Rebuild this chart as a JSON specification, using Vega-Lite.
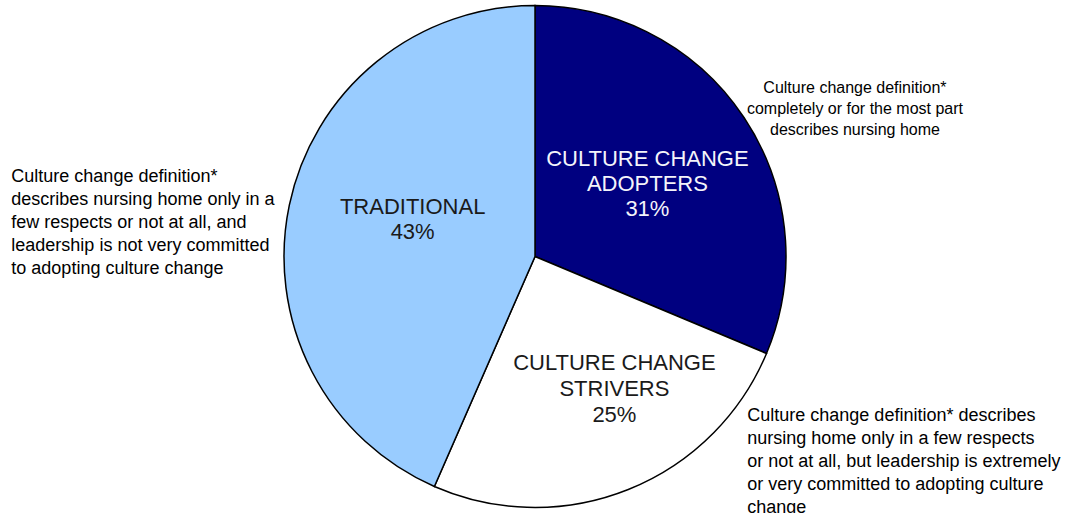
{
  "$schema": "https://vega.github.io/schema/vega-lite/v6.json",
  "width": 1070,
  "height": 513,
  "autosize": {"type": "none"},
  "padding": 0,
  "background": "#ffffff",
  "config": {"view": {"stroke": null}},
  "data": {
    "values": [
      {"segment": "CULTURE CHANGE ADOPTERS", "share": 31, "label": "CULTURE CHANGE\nADOPTERS\n31%", "note": "Culture change definition*\ncompletely or for the most part\ndescribes nursing home"},
      {"segment": "CULTURE CHANGE STRIVERS", "share": 25, "label": "CULTURE CHANGE\nSTRIVERS\n25%", "note": "Culture change definition* describes\nnursing home only in a few respects\nor not at all, but leadership is extremely\nor very committed to adopting culture\nchange"},
      {"segment": "TRADITIONAL", "share": 43, "label": "TRADITIONAL\n43%", "note": "Culture change definition*\ndescribes nursing home only in a\nfew respects or not at all, and\nleadership is not very committed\nto adopting culture change"}
    ]
  },
  "encoding": {
    "theta": {"field": "share", "type": "quantitative", "stack": true},
    "order": {"field": "segment", "type": "nominal", "sort": "ascending"}
  },
  "layer": [
    {
      "mark": {"type": "arc", "outerRadius": 251, "stroke": "#000000", "strokeWidth": 1.5},
      "encoding": {
        "color": {
          "field": "segment", "type": "nominal",
          "scale": {"domain": ["CULTURE CHANGE ADOPTERS", "CULTURE CHANGE STRIVERS", "TRADITIONAL"], "range": ["#000080", "#FFFFFF", "#99CCFF"]},
          "legend": null
        }
      }
    },
    {
      "mark": {"type": "text", "radius": 135, "dy": -23, "font": "Liberation Sans", "fontSize": 22, "lineHeight": 25, "lineBreak": "\n", "fill": "#F4F4FA"},
      "encoding": {
        "detail": {"field": "segment"},
        "text": {"condition": {"test": "datum.segment === 'CULTURE CHANGE ADOPTERS'", "field": "label"}, "value": ""}
      }
    },
    {
      "mark": {"type": "text", "radius": 141, "dx": 27, "dy": -24, "font": "Liberation Sans", "fontSize": 22, "lineHeight": 26, "lineBreak": "\n", "fill": "#1a1a1a"},
      "encoding": {
        "detail": {"field": "segment"},
        "text": {"condition": {"test": "datum.segment === 'CULTURE CHANGE STRIVERS'", "field": "label"}, "value": ""}
      }
    },
    {
      "mark": {"type": "text", "radius": 125, "dy": -24, "font": "Liberation Sans", "fontSize": 22, "lineHeight": 25, "lineBreak": "\n", "fill": "#1a1a1a"},
      "encoding": {
        "detail": {"field": "segment"},
        "text": {"condition": {"test": "datum.segment === 'TRADITIONAL'", "field": "label"}, "value": ""}
      }
    },
    {
      "mark": {"type": "text", "radius": 251, "dx": 111, "dy": -29.5, "align": "center", "font": "Liberation Sans", "fontSize": 16, "lineHeight": 21, "lineBreak": "\n", "fill": "#000000"},
      "encoding": {
        "detail": {"field": "segment"},
        "text": {"condition": {"test": "datum.segment === 'CULTURE CHANGE ADOPTERS'", "field": "note"}, "value": ""}
      }
    },
    {
      "mark": {"type": "text", "radius": 251, "dx": 119, "dy": -73.5, "align": "left", "font": "Liberation Sans", "fontSize": 18, "lineHeight": 23, "lineBreak": "\n", "fill": "#000000"},
      "encoding": {
        "detail": {"field": "segment"},
        "text": {"condition": {"test": "datum.segment === 'CULTURE CHANGE STRIVERS'", "field": "note"}, "value": ""}
      }
    },
    {
      "mark": {"type": "text", "radius": 251, "dx": -278, "dy": -28, "align": "left", "font": "Liberation Sans", "fontSize": 18, "lineHeight": 23, "lineBreak": "\n", "fill": "#000000"},
      "encoding": {
        "detail": {"field": "segment"},
        "text": {"condition": {"test": "datum.segment === 'TRADITIONAL'", "field": "note"}, "value": ""}
      }
    }
  ]
}
